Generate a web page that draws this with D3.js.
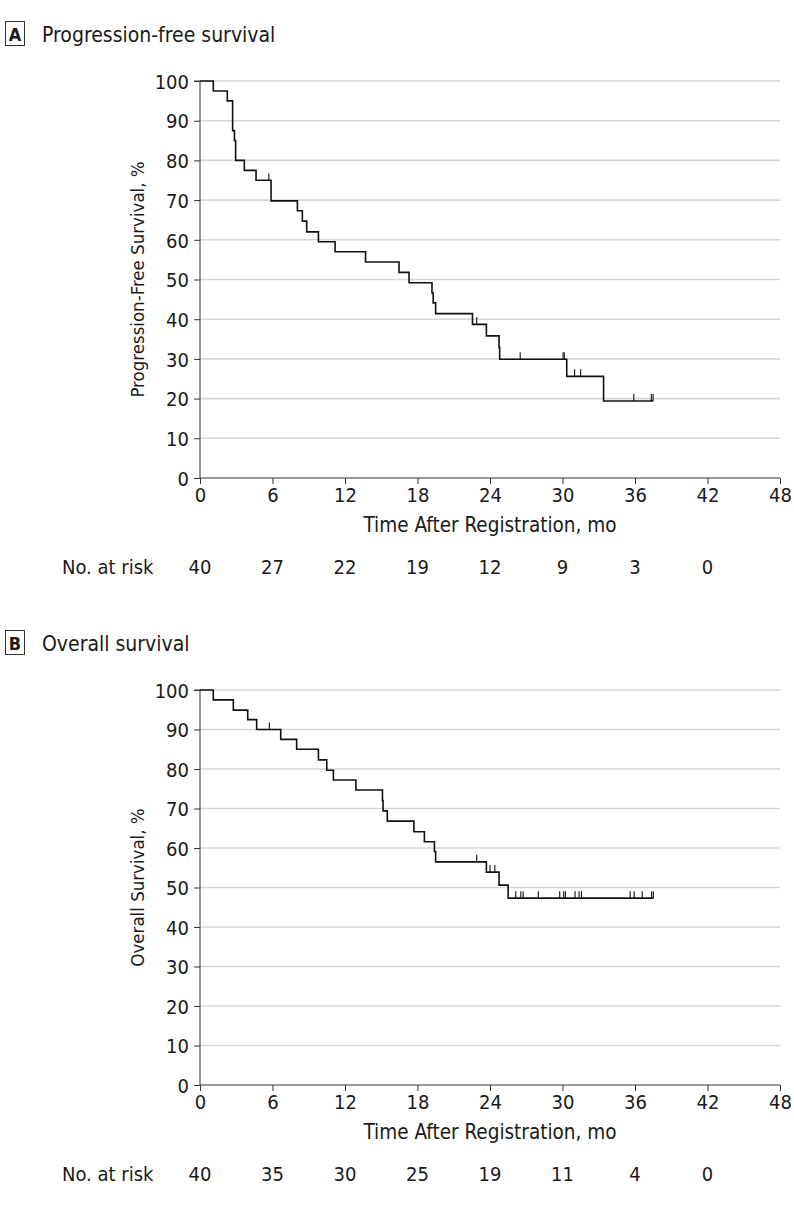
<!DOCTYPE html>
<html><head><meta charset="utf-8">
<script src="https://cdn.jsdelivr.net/npm/d3@7"></script>
<style>
body{margin:0;background:#fff;}
svg text{font-family:"DejaVu Sans Condensed","DejaVu Sans",sans-serif;font-stretch:condensed;fill:#1a1a1a;}
</style></head><body>
<svg id="chart" width="794" height="1207"></svg>
<script>
// ---- data ----
const xTicks = [0, 6, 12, 18, 24, 30, 36, 42, 48];
const yTicks = [0, 10, 20, 30, 40, 50, 60, 70, 80, 90, 100];

const pfsTimes    = [0, 1.1, 2.26, 2.7, 2.85, 2.95, 3.67, 4.64, 5.88, 8.06, 8.47, 8.83, 9.8, 11.18, 13.7, 16.47, 17.3, 19.2, 19.3, 19.5, 22.55, 23.7, 24.75, 24.8, 30.35, 33.4];
const pfsSurvival = [100, 97.5, 95.0, 87.5, 85.0, 80.0, 77.5, 75.0, 69.8, 67.3, 64.7, 62.0, 59.5, 57.0, 54.4, 51.8, 49.2, 46.6, 44.1, 41.4, 38.7, 35.8, 32.9, 29.9, 25.6, 19.4];
const pfsCensored = [5.7, 22.9, 26.5, 30.05, 30.15, 31.0, 31.5, 35.9, 37.35, 37.5];
const pfsEnd = 37.5;
const pfsAtRisk = [40, 27, 22, 19, 12, 9, 3, 0];

const osTimes    = [0, 1.1, 2.76, 3.95, 4.69, 6.68, 8.0, 9.8, 10.49, 11.04, 12.9, 15.1, 15.15, 15.5, 17.7, 18.57, 19.4, 19.5, 23.7, 24.75, 25.5];
const osSurvival = [100, 97.5, 94.9, 92.5, 90.0, 87.5, 85.0, 82.3, 79.7, 77.2, 74.7, 72.0, 69.4, 66.8, 64.1, 61.6, 59.1, 56.5, 53.9, 50.6, 47.3];
const osCensored = [5.74, 22.9, 24.0, 24.4, 26.13, 26.55, 26.74, 28.0, 29.77, 30.1, 30.24, 31.04, 31.37, 31.57, 35.6, 35.93, 36.6, 37.38, 37.52];
const osEnd = 37.52;
const osAtRisk = [40, 35, 30, 25, 19, 11, 4, 0];

const panels = [
  {letter: "A", title: "Progression-free survival", yLabel: "Progression-Free Survival, %",
   times: pfsTimes, surv: pfsSurvival, cens: pfsCensored, end: pfsEnd, atRisk: pfsAtRisk,
   top: 81, bottom: 478, headY: 34},
  {letter: "B", title: "Overall survival", yLabel: "Overall Survival, %",
   times: osTimes, surv: osSurvival, cens: osCensored, end: osEnd, atRisk: osAtRisk,
   top: 690, bottom: 1085, headY: 643}
];

const svg = d3.select("#chart");
const x = d3.scaleLinear().domain([0, 48]).range([200, 780]);

panels.forEach(p => {
  const y = d3.scaleLinear().domain([0, 100]).range([p.bottom, p.top]);
  const g = svg.append("g");

  // header
  g.append("rect").attr("x", 5.5).attr("y", p.headY - 12.5).attr("width", 19).attr("height", 24)
    .attr("fill", "none").attr("stroke", "#333").attr("stroke-width", 1);
  g.append("text").attr("x", 15).attr("y", p.headY + 6.5).attr("text-anchor", "middle")
    .attr("font-size", 18).attr("font-weight", "bold").text(p.letter);
  g.append("text").attr("x", 42).attr("y", p.headY + 8).attr("font-size", 21).text(p.title);

  // gridlines
  g.selectAll(".grid").data(yTicks.filter(d => d > 0)).join("line")
    .attr("x1", x(0)).attr("x2", x(48)).attr("y1", d => y(d)).attr("y2", d => y(d))
    .attr("stroke", "#d6d6d6").attr("stroke-width", 1.6);

  // y axis
  const ya = g.append("g").attr("transform", `translate(${x(0)},0)`)
    .call(d3.axisLeft(y).tickValues(yTicks).tickSize(6).tickPadding(5));
  ya.select(".domain").attr("stroke", "#333").attr("d", `M-6,${y(100)}H0V${y(0)}`);
  ya.selectAll(".tick line").attr("stroke", "#333");
  ya.selectAll(".tick text").attr("font-size", 20).attr("fill", "#1a1a1a").attr("dy", "0.36em");

  // x axis
  const xa = g.append("g").attr("transform", `translate(0,${y(0)})`)
    .call(d3.axisBottom(x).tickValues(xTicks).tickSize(6).tickPadding(4));
  xa.select(".domain").attr("stroke", "#333").attr("d", `M${x(0)},0H${x(48)}`);
  xa.selectAll(".tick line").attr("stroke", "#333");
  xa.selectAll(".tick text").attr("font-size", 20).attr("fill", "#1a1a1a");

  // axis titles
  g.append("text").attr("transform", `translate(144,${(y(0) + y(100)) / 2}) rotate(-90)`)
    .attr("text-anchor", "middle").attr("font-size", 18.5).text(p.yLabel);
  g.append("text").attr("x", x(24)).attr("y", y(0) + 54).attr("text-anchor", "middle")
    .attr("font-size", 20.5).text("Time After Registration, mo");

  // at risk
  const ry = y(0) + 96;
  g.append("text").attr("x", 62).attr("y", ry).attr("font-size", 20).text("No. at risk");
  g.selectAll(".risk").data(p.atRisk).join("text")
    .attr("x", (d, i) => x(xTicks[i])).attr("y", ry).attr("text-anchor", "middle")
    .attr("font-size", 20).text(d => d);

  // KM curve
  const pts = p.times.map((t, i) => [t, p.surv[i]]);
  pts.push([p.end, p.surv[p.surv.length - 1]]);
  const line = d3.line().x(d => x(d[0])).y(d => y(d[1])).curve(d3.curveStepAfter);
  g.append("path").attr("d", line(pts)).attr("fill", "none")
    .attr("stroke", "#111").attr("stroke-width", 1.6);

  // censor marks
  const survAt = t => {
    let s = 100;
    p.times.forEach((tt, i) => { if (tt <= t) s = p.surv[i]; });
    return s;
  };
  g.selectAll(".cens").data(p.cens).join("line")
    .attr("x1", d => x(d)).attr("x2", d => x(d))
    .attr("y1", d => y(survAt(d))).attr("y2", d => y(survAt(d)) - 7)
    .attr("stroke", "#111").attr("stroke-width", 1.1);
});
</script>
</body></html>
